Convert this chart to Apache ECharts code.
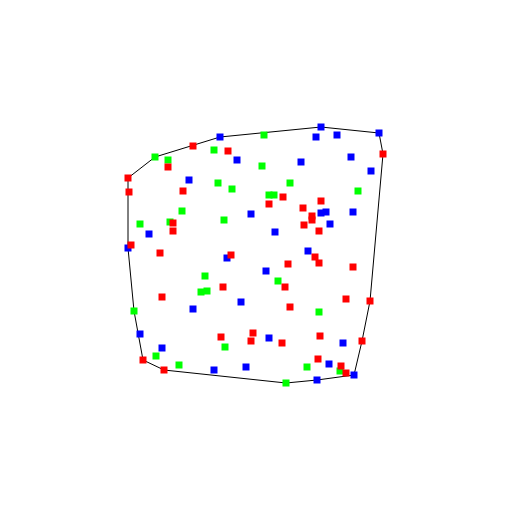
<!DOCTYPE html>
<html><head><meta charset="utf-8">
<script src="https://cdn.jsdelivr.net/npm/echarts@6/dist/echarts.min.js"></script>
<style>html,body{margin:0;padding:0;background:#fff}#c{width:512px;height:512px}</style>
</head><body><div id="c"></div>
<script>
const redPoints = [[65,238],[100,233],[40,217],[0,206],[1,192],[55,193],[45,161],[45,153],[3,139],[32,131],[103,129],[255,230],[155,187],[141,180],[193,183],[175,176],[184,168],[184,164],[176,159],[191,153],[187,127],[191,121],[160,120],[225,117],[95,97],[34,87],[93,47],[125,51],[123,43],[15,24],[36,14],[157,97],[218,85],[242,83],[162,77],[154,41],[192,48],[234,43],[190,25],[213,18],[218,11]];
const greenPoints = [[27,227],[86,234],[40,224],[90,201],[104,195],[54,173],[96,164],[12,160],[42,162],[136,249],[134,218],[162,201],[230,193],[141,189],[146,189],[77,108],[73,92],[79,93],[6,73],[97,37],[28,28],[51,19],[150,103],[191,72],[179,17],[212,13],[158,1]];
const bluePoints = [[92,247],[109,224],[61,204],[123,170],[21,150],[0,136],[99,126],[193,257],[188,247],[209,249],[251,251],[223,227],[173,222],[243,213],[193,171],[198,172],[225,172],[202,160],[147,152],[180,133],[138,113],[113,82],[65,75],[12,50],[34,36],[86,14],[118,17],[141,46],[215,41],[201,20],[226,9],[189,4]];

function hull(pts){
  const p = pts.slice().sort((a,b)=>a[0]-b[0]||a[1]-b[1]);
  const cross=(o,a,b)=>(a[0]-o[0])*(b[1]-o[1])-(a[1]-o[1])*(b[0]-o[0]);
  const lo=[],up=[];
  for(const q of p){while(lo.length>=2&&cross(lo[lo.length-2],lo[lo.length-1],q)<=0)lo.pop();lo.push(q);}
  for(let i=p.length-1;i>=0;i--){const q=p[i];while(up.length>=2&&cross(up[up.length-2],up[up.length-1],q)<=0)up.pop();up.push(q);}
  up.pop();lo.pop();
  const h=lo.concat(up);h.push(h[0]);return h;
}
const hullPts = hull(redPoints.concat(greenPoints,bluePoints));

const chart = echarts.init(document.getElementById('c'));
const sc = (data,color)=>({type:'scatter',data,symbol:'rect',symbolSize:7,clip:false,itemStyle:{color,opacity:1},z:3});
chart.setOption({
  animation:false,
  backgroundColor:'#fff',
  grid:{left:128,top:128,width:256,height:256},
  xAxis:{type:'value',min:0,max:256,show:false},
  yAxis:{type:'value',min:0,max:256,show:false},
  series:[
    {type:'line',data:hullPts,symbol:'none',clip:false,lineStyle:{color:'#000',width:1},z:2},
    sc(bluePoints,'#0000ff'),
    sc(greenPoints,'#00ff00'),
    sc(redPoints,'#ff0000')
  ]
});
</script></body></html>
